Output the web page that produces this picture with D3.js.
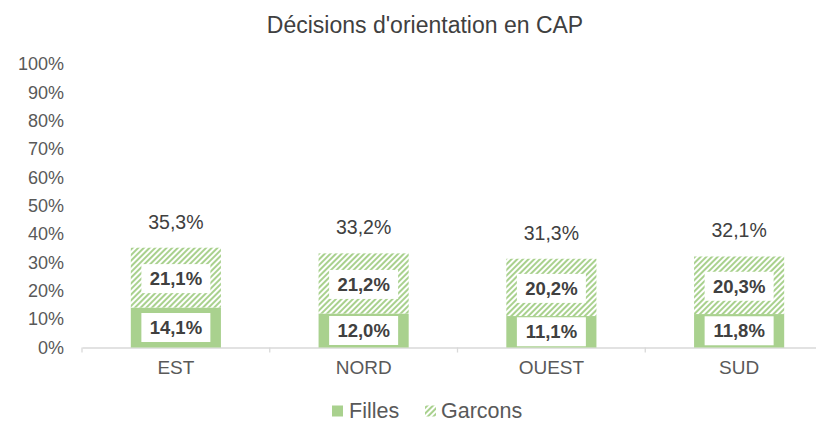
<!DOCTYPE html>
<html>
<head>
<meta charset="utf-8">
<script src="https://cdn.jsdelivr.net/npm/d3@7"></script>
<style>
  body { margin: 0; background: #fff; }
  svg { display: block; font-family: "Liberation Sans", Arial, sans-serif; }
</style>
</head>
<body>
<svg width="816" height="423"></svg>
<script>
// data
const regions = ["EST", "NORD", "OUEST", "SUD"];
const filles = [0.141, 0.120, 0.111, 0.118];
const garcons = [0.211, 0.212, 0.202, 0.203];
const totals = [0.353, 0.332, 0.313, 0.321];
const yTicks = [0, 0.1, 0.2, 0.3, 0.4, 0.5, 0.6, 0.7, 0.8, 0.9, 1];
const seriesNames = ["Filles", "Garcons"];

const svg = d3.select("svg");
const green = "#a9d18e";

const fr = d3.formatLocale({decimal: ",", thousands: " ", grouping: [3], currency: ["", " €"]});
const pct0 = fr.format(".0%");
const pct1 = fr.format(".1%");

const x = d3.scaleBand()
    .domain(regions)
    .range([82, 833])
    .paddingInner(0.52)
    .paddingOuter(0.26);

const y = d3.scaleLinear()
    .domain([0, 1])
    .range([347.5, 64]);

// hatch pattern
const defs = svg.append("defs");
const pat = defs.append("pattern")
    .attr("id", "hatch")
    .attr("patternUnits", "userSpaceOnUse")
    .attr("width", 4).attr("height", 4)
    .attr("patternTransform", "rotate(45)");
pat.append("rect").attr("width", 4).attr("height", 4).attr("fill", "#fff");
pat.append("rect").attr("width", 2).attr("height", 4).attr("fill", green);

// title
svg.append("text")
    .attr("x", 425).attr("y", 33)
    .attr("text-anchor", "middle")
    .attr("font-size", 23)
    .attr("fill", "#404040")
    .text("Décisions d'orientation en CAP");

// y axis labels
svg.append("g").selectAll("text")
    .data(yTicks).enter()
    .append("text")
    .attr("x", 64)
    .attr("y", d => y(d))
    .attr("dy", "0.35em")
    .attr("text-anchor", "end")
    .attr("font-size", 18)
    .attr("fill", "#595959")
    .text(d => pct0(d));

// x axis
const step = x.step();
const xAxis = d3.axisBottom(x).tickSize(0).tickPadding(13);
const gx = svg.append("g")
    .attr("transform", `translate(0,${y(0)})`)
    .call(xAxis);
gx.select(".domain").attr("stroke", "#d9d9d9").attr("stroke-width", 1.3);
gx.selectAll("text")
    .attr("font-size", 19)
    .attr("fill", "#595959")
    .attr("font-family", "Liberation Sans, Arial, sans-serif");
// category boundary ticks
gx.selectAll(".sep")
    .data(d3.range(regions.length + 1)).enter()
    .append("line")
    .attr("x1", i => 82 + i * step).attr("x2", i => 82 + i * step)
    .attr("y1", 0).attr("y2", 5)
    .attr("stroke", "#d9d9d9").attr("stroke-width", 1.3);

// bars
const bars = svg.append("g");
bars.selectAll(".filles")
    .data(regions).enter()
    .append("rect")
    .attr("x", d => x(d))
    .attr("width", x.bandwidth())
    .attr("y", (d, i) => y(filles[i]))
    .attr("height", (d, i) => y(0) - y(filles[i]))
    .attr("fill", green);

bars.selectAll(".garcons")
    .data(regions).enter()
    .append("rect")
    .attr("x", d => x(d))
    .attr("width", x.bandwidth())
    .attr("y", (d, i) => y(filles[i] + garcons[i]))
    .attr("height", (d, i) => y(filles[i]) - y(filles[i] + garcons[i]))
    .attr("fill", "url(#hatch)");

// segment labels in white boxes
function boxLabel(cx, cy, txt) {
  const g = svg.append("g");
  g.append("rect")
    .attr("x", cx - 34.5).attr("y", cy - 14.5)
    .attr("width", 69).attr("height", 29)
    .attr("fill", "#fff");
  g.append("text")
    .attr("x", cx).attr("y", cy)
    .attr("dy", "0.36em")
    .attr("text-anchor", "middle")
    .attr("font-size", 18.5)
    .attr("font-weight", "bold")
    .attr("fill", "#404040")
    .text(txt);
}
regions.forEach((r, i) => {
  const cx = x(r) + x.bandwidth() / 2;
  boxLabel(cx, (y(0) + y(filles[i])) / 2, pct1(filles[i]));
  boxLabel(cx, (y(filles[i]) + y(filles[i] + garcons[i])) / 2 + 1, pct1(garcons[i]));
});

// totals
svg.append("g").selectAll("text")
    .data(regions).enter()
    .append("text")
    .attr("x", d => x(d) + x.bandwidth() / 2)
    .attr("y", (d, i) => y(filles[i] + garcons[i]) - 19)
    .attr("text-anchor", "middle")
    .attr("font-size", 19.5)
    .attr("fill", "#404040")
    .text((d, i) => pct1(totals[i]));

// legend
const leg = svg.append("g");
leg.append("rect")
    .attr("x", 332).attr("y", 405.5)
    .attr("width", 11).attr("height", 11)
    .attr("fill", green);
leg.append("text")
    .attr("x", 349).attr("y", 410.5).attr("dy", "0.36em")
    .attr("font-size", 21.5).attr("fill", "#595959")
    .text(seriesNames[0]);
leg.append("rect")
    .attr("x", 425).attr("y", 405.5)
    .attr("width", 11).attr("height", 11)
    .attr("fill", "url(#hatch)");
leg.append("text")
    .attr("x", 441).attr("y", 410.5).attr("dy", "0.36em")
    .attr("font-size", 21.5).attr("fill", "#595959")
    .text(seriesNames[1]);
</script>
</body>
</html>
